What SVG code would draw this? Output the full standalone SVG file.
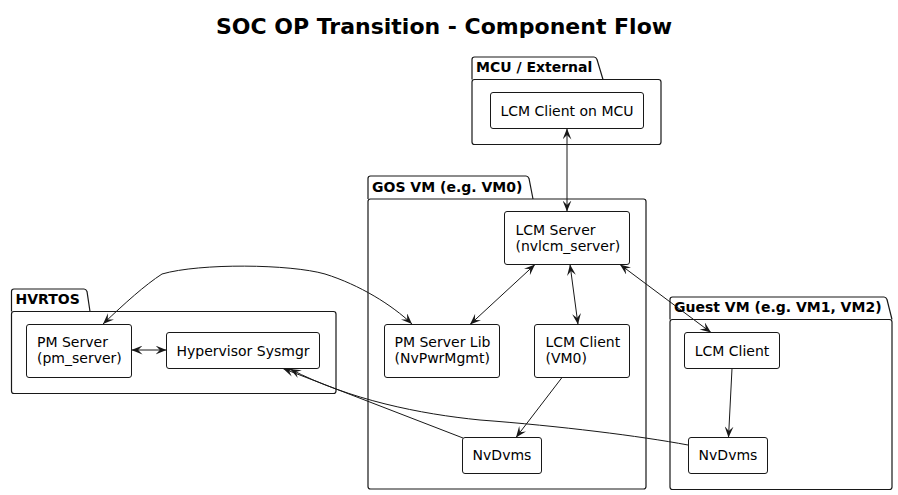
<svg xmlns="http://www.w3.org/2000/svg" width="898" height="495" viewBox="0 0 898 495">
<style>
  text { font-family: "DejaVu Sans", "Liberation Sans", sans-serif; fill: #000; }
  .title { font-size: 22px; font-weight: bold; }
  .pkgl { font-size: 14px; font-weight: bold; }
  .lbl { font-size: 14px; }
  .pkg { fill: #fff; stroke: #181818; stroke-width: 1.2; }
  .node { fill: #fff; stroke: #181818; stroke-width: 1; }
  .edge { fill: none; stroke: #181818; stroke-width: 1; }
</style>
<defs>
  <marker id="ah" viewBox="0 0 10 8" refX="10" refY="4" markerWidth="11" markerHeight="9" markerUnits="userSpaceOnUse" orient="auto-start-reverse">
    <path d="M0,0 L10,4 L0,8 L4,4 Z" fill="#181818"/>
  </marker>
</defs>
<rect width="898" height="495" fill="#fff"/>
<text class="title" x="444" y="34" text-anchor="middle">SOC OP Transition - Component Flow</text>

<g id="pkg-mcu">
  <path class="pkg" d="M472,79.5 L472,59.5 Q472,57 474.5,57 L594,57 Q596,57 597,59.5 L603,79.5"/>
  <rect class="pkg" x="472" y="79.5" width="189" height="65" rx="2.5"/>
  <text class="pkgl" x="476" y="72">MCU / External</text>
</g>
<g id="pkg-gos">
  <path class="pkg" d="M368,199 L368,178.5 Q368,176 370.5,176 L526,176 Q528,176 529,178.5 L533,199"/>
  <rect class="pkg" x="368" y="199" width="278" height="290" rx="2.5"/>
  <text class="pkgl" x="372" y="192">GOS VM (e.g. VM0)</text>
</g>
<g id="pkg-hvrtos">
  <path class="pkg" d="M11.5,311.5 L11.5,291.5 Q11.5,289 14,289 L84,289 Q86,289 87,291.5 L90,311.5"/>
  <rect class="pkg" x="11.5" y="311.5" width="324.5" height="82" rx="2.5"/>
  <text class="pkgl" x="15.5" y="304">HVRTOS</text>
</g>
<g id="pkg-guest">
  <path class="pkg" d="M670,319.5 L670,299.5 Q670,297 672.5,297 L884,297 Q886,297 887,299.5 L892,319.5"/>
  <rect class="pkg" x="670" y="319.5" width="222" height="170" rx="2.5"/>
  <text class="pkgl" x="674" y="312">Guest VM (e.g. VM1, VM2)</text>
</g>

<g id="lcm-client-mcu">
  <rect class="node" x="490.5" y="92.5" width="153" height="36" rx="2.5"/>
  <text class="lbl" x="567" y="115.5" text-anchor="middle">LCM Client on MCU</text>
</g>
<g id="lcm-server">
  <rect class="node" x="504.5" y="211.5" width="125" height="53" rx="2.5"/>
  <text class="lbl" x="515.5" y="235">LCM Server</text>
  <text class="lbl" x="515.5" y="251">(nvlcm_server)</text>
</g>
<g id="pm-server-lib">
  <rect class="node" x="384.5" y="324.5" width="115" height="53" rx="2.5"/>
  <text class="lbl" x="394.5" y="347">PM Server Lib</text>
  <text class="lbl" x="394.5" y="363">(NvPwrMgmt)</text>
</g>
<g id="lcm-client-vm0">
  <rect class="node" x="534.5" y="324.5" width="95" height="53" rx="2.5"/>
  <text class="lbl" x="545.5" y="347">LCM Client</text>
  <text class="lbl" x="545.5" y="363">(VM0)</text>
</g>
<g id="nvdvms-gos">
  <rect class="node" x="462.5" y="437.5" width="79" height="36" rx="2.5"/>
  <text class="lbl" x="502" y="460" text-anchor="middle">NvDvms</text>
</g>
<g id="pm-server">
  <rect class="node" x="26.5" y="324.5" width="105" height="53" rx="2.5"/>
  <text class="lbl" x="37" y="347">PM Server</text>
  <text class="lbl" x="37" y="363">(pm_server)</text>
</g>
<g id="hyp-sysmgr">
  <rect class="node" x="166.5" y="332.5" width="153" height="36" rx="2.5"/>
  <text class="lbl" x="243" y="355.5" text-anchor="middle">Hypervisor Sysmgr</text>
</g>
<g id="lcm-client-guest">
  <rect class="node" x="684.5" y="332.5" width="95" height="36" rx="2.5"/>
  <text class="lbl" x="732" y="355.5" text-anchor="middle">LCM Client</text>
</g>
<g id="nvdvms-guest">
  <rect class="node" x="688.5" y="437.5" width="79" height="36" rx="2.5"/>
  <text class="lbl" x="728" y="460" text-anchor="middle">NvDvms</text>
</g>

<g id="connectors">
  <path class="edge" d="M567,128.5 L567,211.5" marker-start="url(#ah)" marker-end="url(#ah)"/>
  <path class="edge" d="M535,264.5 L470,324.5" marker-start="url(#ah)" marker-end="url(#ah)"/>
  <path class="edge" d="M570,264.5 L578,324.5" marker-start="url(#ah)" marker-end="url(#ah)"/>
  <path class="edge" d="M620,264.5 L711,332.5" marker-start="url(#ah)" marker-end="url(#ah)"/>
  <path class="edge" d="M103,324 C125,303 145,285 162,274 C200,263 290,264 325,274 C360,285 392,305 412,324" marker-start="url(#ah)" marker-end="url(#ah)"/>
  <path class="edge" d="M131.5,350 L166.5,350" marker-start="url(#ah)" marker-end="url(#ah)"/>
  <path class="edge" d="M562,377.5 L516,437.5" marker-end="url(#ah)"/>
  <path class="edge" d="M732,368.5 L728.5,437.5" marker-end="url(#ah)"/>
  <path class="edge" d="M463,438 L283,368.5" marker-end="url(#ah)"/>
  <path class="edge" d="M688,445 C640,436 560,426 480,420 C420,414 350,400 290,369" marker-end="url(#ah)"/>
</g>
</svg>
